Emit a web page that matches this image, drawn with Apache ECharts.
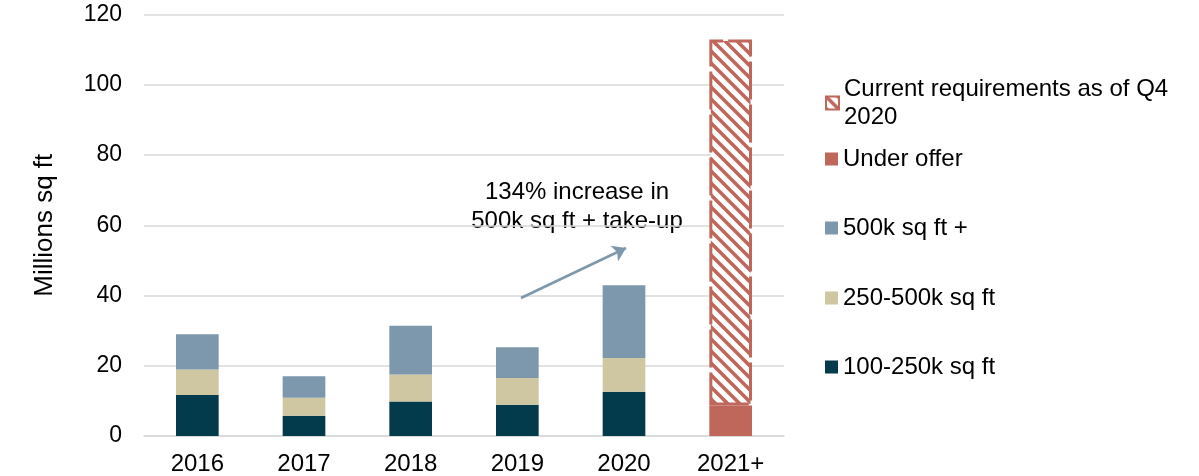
<!DOCTYPE html>
<html>
<head>
<meta charset="utf-8">
<script src="https://cdn.jsdelivr.net/npm/echarts@6/dist/echarts.min.js"></script>
<style>
  html, body { margin: 0; padding: 0; background: #fff; }
  #chart { width: 1199px; height: 476px; }
</style>
</head>
<body>
<div id="chart"></div>
<script>
  // categories and values (millions sq ft)
  var years = ['2016', '2017', '2018', '2019', '2020', '2021+']
  var small = [11.7, 5.8, 9.8, 8.9, 12.6, '-']        // 100-250k sq ft
  var medium = [7.2, 5.1, 7.7, 7.6, 9.6, '-']          // 250-500k sq ft
  var large = [10.1, 6.1, 13.9, 8.8, 20.7, '-']        // 500k sq ft +
  var underOffer = ['-', '-', '-', '-', '-', 8.7]
  var requirements = ['-', '-', '-', '-', '-', 104.2]
  var yTicks = [0, 120, 20]  // min, max, interval

  var RED = '#BF675A'
  var FONT = 'Liberation Sans, Arial, sans-serif'

  // diagonal hatch for the requirements bar
  function hatch() {
    var n = 12
    var c = document.createElement('canvas')
    c.width = n; c.height = n
    var ctx = c.getContext('2d')
    ctx.fillStyle = '#fff'
    ctx.fillRect(0, 0, n, n)
    ctx.strokeStyle = RED
    ctx.lineWidth = 3.6
    ctx.beginPath()
    ctx.moveTo(-n, -n); ctx.lineTo(2 * n, 2 * n)
    ctx.moveTo(-n, 0); ctx.lineTo(n, 2 * n)
    ctx.moveTo(0, -n); ctx.lineTo(2 * n, n)
    ctx.stroke()
    return c
  }

  var chart = echarts.init(document.getElementById('chart'), null, {renderer: 'canvas'})

  function legendAt(name, top, extra) {
    var l = {
      data: [name],
      orient: 'vertical',
      left: 825,
      top: top,
      padding: 0,
      icon: 'rect',
      itemWidth: 13,
      itemHeight: 13,
      itemGap: 0,
      selectedMode: false,
      textStyle: {fontSize: 24, color: '#000', fontFamily: FONT}
    }
    return Object.assign(l, extra || {})
  }

  var option = {
    animation: false,
    textStyle: {fontFamily: FONT},
    grid: {left: 144, right: 415, top: 14.5, bottom: 40},
    legend: [
      legendAt('Current requirements as of Q4 2020', 61, {
        formatter: function () { return 'Current requirements as of Q4\n2020' },
        textStyle: {fontSize: 24, color: '#000', fontFamily: FONT, lineHeight: 28, padding: [28, 0, 0, 0]}
      }),
      legendAt('Under offer', 147),
      legendAt('500k sq ft +', 216),
      legendAt('250-500k sq ft', 286),
      legendAt('100-250k sq ft', 355)
    ],
    xAxis: {
      type: 'category',
      data: years,
      axisLine: {show: true, lineStyle: {color: '#D9D9D9', width: 1.5}},
      axisTick: {show: false},
      axisLabel: {fontSize: 24, color: '#000', margin: 16, fontFamily: FONT}
    },
    yAxis: {
      type: 'value',
      min: yTicks[0],
      max: yTicks[1],
      interval: yTicks[2],
      name: 'Millions sq ft',
      nameLocation: 'middle',
      nameGap: 86,
      nameTextStyle: {fontSize: 26, color: '#000', fontFamily: FONT},
      axisLine: {show: false},
      axisTick: {show: false},
      axisLabel: {fontSize: 23, color: '#000', margin: 22, fontFamily: FONT},
      splitLine: {lineStyle: {color: '#D9D9D9', width: 1.5}}
    },
    series: [
      {
        name: '100-250k sq ft', type: 'bar', stack: 'a', barWidth: '40%',
        itemStyle: {color: '#033B4D'},
        data: small
      },
      {
        name: '250-500k sq ft', type: 'bar', stack: 'a',
        itemStyle: {color: '#CFC6A2'},
        data: medium
      },
      {
        name: '500k sq ft +', type: 'bar', stack: 'a',
        itemStyle: {color: '#7D98AD'},
        data: large,
        markLine: {
          silent: true,
          symbol: ['none', 'arrow'],
          symbolSize: 13,
          label: {show: false},
          lineStyle: {color: '#7D98AD', width: 2.5, type: 'solid'},
          data: [[{x: 521, y: 298}, {x: 626, y: 248}]]
        }
      },
      {
        name: 'Under offer', type: 'bar', stack: 'a',
        itemStyle: {color: RED},
        data: underOffer
      },
      {
        name: 'Current requirements as of Q4 2020', type: 'bar', stack: 'a',
        itemStyle: {
          color: {image: hatch(), repeat: 'repeat'},
          borderColor: RED,
          borderWidth: 3,
          borderType: [38, 5]
        },
        data: requirements
      }
    ],
    graphic: [
      {
        type: 'text',
        x: 577,
        y: 207,
        style: {
          text: '134% increase in\n500k sq ft + take-up',
          fontSize: 24,
          fontFamily: FONT,
          lineHeight: 29,
          fill: '#000',
          align: 'center',
          verticalAlign: 'middle'
        }
      }
    ]
  }
  chart.setOption(option)
</script>
</body>
</html>
